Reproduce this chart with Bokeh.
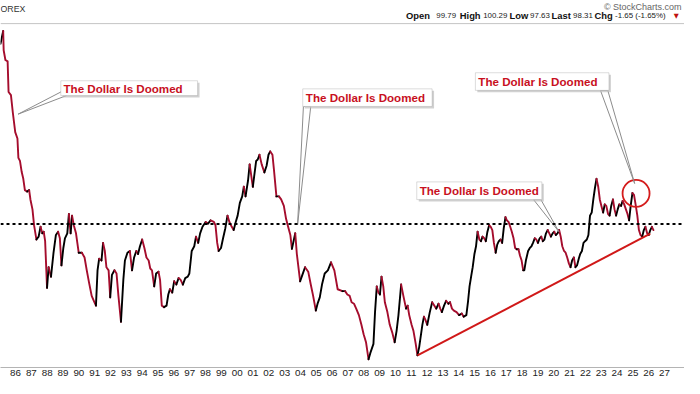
import numpy as np
from bokeh.plotting import figure
from bokeh.models import Range1d, FixedTicker, Span, BoxAnnotation, Label
from bokeh.embed import file_html
from bokeh.resources import INLINE

# ---------------- data (US Dollar Index) ----------------
dates = [
    1985.05, 1985.22, 1985.25, 1985.36, 1985.5, 1985.56, 1985.71, 1985.83, 1985.98, 1986.12, 1986.18, 1986.28,
    1986.39, 1986.49, 1986.59, 1986.74, 1986.86, 1986.94,
    1987.07, 1987.17, 1987.32, 1987.46, 1987.58, 1987.69, 1987.78, 1987.87, 1987.99,
    1988.09, 1988.24, 1988.4, 1988.55, 1988.69, 1988.8, 1988.9,
    1989.02, 1989.12, 1989.27, 1989.37, 1989.48, 1989.57, 1989.68, 1989.82, 1989.99,
    1990.19, 1990.36, 1990.5, 1990.65, 1990.81, 1990.98,
    1991.08, 1991.18, 1991.28, 1991.43, 1991.53, 1991.64, 1991.74, 1991.88, 1991.98,
    1992.09, 1992.25, 1992.38, 1992.5, 1992.66, 1992.81, 1992.91,
    1993.07, 1993.22, 1993.36, 1993.49, 1993.63, 1993.74, 1993.86,
    1994.0, 1994.14, 1994.27, 1994.41, 1994.51, 1994.62, 1994.76, 1994.88,
    1995.03, 1995.13, 1995.24, 1995.38, 1995.54, 1995.65, 1995.75, 1995.9,
    1996.02, 1996.16, 1996.3, 1996.43, 1996.57, 1996.72, 1996.88, 1996.98,
    1997.13, 1997.29, 1997.4, 1997.54, 1997.66, 1997.81,
    1998.01, 1998.16, 1998.32, 1998.53, 1998.63, 1998.74, 1998.83, 1998.98,
    1999.11, 1999.25, 1999.39, 1999.51, 1999.66, 1999.78, 1999.91,
    2000.03, 2000.17, 2000.32, 2000.42, 2000.53, 2000.69, 2000.79, 2000.99,
    2001.2, 2001.3, 2001.41, 2001.55, 2001.72, 2001.86, 2001.98,
    2002.09, 2002.23, 2002.33, 2002.48, 2002.64, 2002.78, 2002.95,
    2003.09, 2003.22, 2003.36, 2003.46, 2003.67, 2003.77, 2003.98,
    2004.12, 2004.29, 2004.49, 2004.65, 2004.8, 2004.97,
    2005.08, 2005.22, 2005.36, 2005.53, 2005.73, 2005.93,
    2006.14, 2006.35, 2006.65, 2006.82, 2006.96,
    2007.11, 2007.23, 2007.38, 2007.52, 2007.69, 2007.85, 2007.99,
    2008.14, 2008.3, 2008.41, 2008.61, 2008.71, 2008.82, 2008.92,
    2009.02, 2009.12, 2009.23, 2009.33, 2009.49, 2009.64, 2009.8, 2009.95,
    2010.07, 2010.19, 2010.36, 2010.5, 2010.67, 2010.77, 2010.87,
    2011.02, 2011.14, 2011.28, 2011.39, 2011.5, 2011.7, 2011.8, 2011.9,
    2012.01, 2012.17, 2012.32, 2012.46, 2012.58, 2012.72, 2012.83, 2012.93,
    2013.07, 2013.2, 2013.34, 2013.45, 2013.57, 2013.69, 2013.86,
    2014.02, 2014.19, 2014.31, 2014.48, 2014.58, 2014.68, 2014.78, 2014.88, 2014.99,
    2015.09, 2015.19, 2015.3, 2015.4, 2015.5, 2015.61, 2015.71, 2015.81, 2015.92,
    2016.02, 2016.12, 2016.22, 2016.33, 2016.43, 2016.53, 2016.64, 2016.74, 2016.84, 2016.95,
    2017.04, 2017.15, 2017.25, 2017.35, 2017.46, 2017.56, 2017.66, 2017.77, 2017.87, 2017.97,
    2018.07, 2018.14, 2018.24, 2018.38, 2018.49, 2018.59, 2018.69, 2018.8, 2018.9,
    2019.0, 2019.11, 2019.21, 2019.31, 2019.41, 2019.51, 2019.62, 2019.72, 2019.82, 2019.93,
    2020.03, 2020.13, 2020.24, 2020.34, 2020.44, 2020.54, 2020.65, 2020.75, 2020.85, 2020.96,
    2021.06, 2021.16, 2021.27, 2021.37, 2021.47, 2021.58, 2021.67, 2021.78, 2021.88, 2021.98,
    2022.09, 2022.19, 2022.29, 2022.4, 2022.5, 2022.6, 2022.7, 2022.81, 2022.91,
    2023.01, 2023.12, 2023.22, 2023.32, 2023.43, 2023.53, 2023.63, 2023.74, 2023.84, 2023.94,
    2024.04, 2024.14, 2024.25, 2024.35, 2024.45, 2024.56, 2024.66, 2024.76, 2024.86, 2024.97,
    2025.07, 2025.17, 2025.28, 2025.38, 2025.48, 2025.59, 2025.69, 2025.79, 2025.9,
    2026.0, 2026.1, 2026.2, 2026.3,
]
dxy = [
    156.6, 161.7, 154.1, 150.4, 149.9, 138.9, 137.8, 131.9, 125.7, 123.7, 117.9, 117.0,
    113.8, 111.9, 108.8, 108.4, 108.8, 106.3,
    103.7, 99.7, 96.2, 96.9, 99.3, 97.7, 98.1, 95.8, 85.3,
    89.8, 87.7, 93.1, 97.3, 98.1, 96.5, 90.2,
    94.2, 96.5, 97.7, 102.5, 97.7, 102.1, 99.7, 97.7, 93.1,
    93.1, 92.0, 89.1, 86.3, 83.6, 82.3,
    81.6, 89.1, 91.7, 91.3, 95.4, 93.5, 89.8, 89.1, 83.3,
    88.1, 89.1, 88.4, 83.6, 78.4, 87.0, 91.3,
    93.1, 93.5, 89.1, 92.0, 93.5, 92.8, 94.6,
    96.2, 94.2, 92.0, 91.3, 89.5, 89.1, 85.6, 88.4,
    88.8, 87.0, 81.6, 81.3, 81.6, 83.9, 85.0, 84.3,
    86.7, 86.0, 87.4, 87.0, 86.0, 87.4, 87.7, 88.4,
    93.5, 94.6, 96.9, 95.4, 97.7, 99.3,
    100.5, 100.1, 100.9, 100.5, 99.7, 95.4, 93.5, 94.2,
    96.5, 98.9, 102.1, 100.5, 99.3, 98.5, 100.5,
    102.1, 105.4, 107.1, 109.7, 107.1, 111.5, 116.0, 109.7,
    117.0, 117.4, 118.8, 116.0, 113.7, 115.6, 118.8,
    119.8, 118.8, 114.2, 107.1, 107.1, 106.3, 104.6,
    101.3, 99.3, 97.3, 94.0, 97.7, 92.8, 86.7,
    88.1, 89.8, 88.8, 86.0, 83.6, 80.6,
    82.0, 83.3, 86.0, 88.4, 89.1, 90.9,
    89.1, 85.0, 84.6, 84.6, 83.9,
    83.6, 82.3, 82.0, 81.0, 79.7, 77.8, 76.0,
    74.5, 71.4, 72.5, 74.2, 80.3, 85.6, 84.3,
    83.9, 87.7, 85.6, 82.3, 80.3, 77.8, 76.3, 74.5,
    76.6, 79.7, 86.0, 83.6, 81.0, 81.6, 79.7,
    77.8, 76.6, 74.2, 72.1, 73.6, 77.8, 79.4, 78.7,
    77.8, 80.3, 82.3, 81.6, 81.0, 82.0, 81.0, 80.3,
    81.6, 82.6, 82.0, 82.3, 81.0, 80.6, 80.3,
    79.7, 80.0, 79.4, 79.7, 82.3, 85.6, 87.7, 89.8, 92.8,
    94.6, 98.1, 96.2, 95.8, 96.9, 96.5, 95.8, 98.1, 99.7,
    99.3, 98.5, 95.4, 93.1, 95.0, 95.8, 96.2, 95.4, 98.9, 101.7,
    100.9, 100.5, 99.3, 98.1, 96.5, 94.2, 93.9, 93.9, 92.4, 91.3,
    89.1, 89.1, 91.3, 93.5, 94.2, 94.6, 95.4, 96.5, 96.2,
    95.4, 96.5, 96.9, 95.8, 96.2, 97.7, 98.5, 97.7, 96.9, 97.7,
    98.1, 97.3, 97.7, 98.5, 96.9, 94.6, 93.5, 93.1, 92.0, 90.6,
    89.8, 91.3, 92.0, 89.8, 90.2, 91.7, 92.8, 93.5, 95.4, 95.8,
    96.2, 97.3, 102.1, 102.9, 106.3, 109.3, 111.9, 109.7, 106.3,
    104.6, 102.9, 105.0, 104.6, 102.5, 102.1, 104.6, 106.3, 103.7, 102.1,
    103.7, 105.0, 104.6, 105.9, 105.0, 103.7, 102.5, 100.9, 104.6, 108.0,
    107.5, 105.0, 102.1, 98.5, 97.3, 96.9, 98.5, 99.3, 97.7,
    97.3, 98.5, 99.3, 98.5,
]
assert len(dates) == len(dxy)

tick_years = list(range(1985, 2028))
tick_labels = ["%02d" % (y % 100) for y in tick_years]

reference_level = 100.0
trend_dates = [2011.39, 2026.1]
trend_values = [72.1, 97.6]
highlight_date = 2025.2
highlight_value = 107.9

callout_text = "The Dollar Is Doomed"
header_title = "OREX"
header_credit = "\u00a9 StockCharts.com"
quote_labels = ["Open", "High", "Low", "Last", "Chg"]
quote_values = ["99.79", "100.29", "97.63", "98.31", "-1.65 (-1.65%)"]

# ---------------- layout calibration (reference pixels -> data) ----------------
X0 = 1985.05
PX_PER_YEAR = 16.2


def rx(px):
    return X0 + px / PX_PER_YEAR


def ry(py):
    return 100.0 * np.exp((232.0 - py) / 417.0)


RED = "#a50d2d"
TXT_RED = "#c8101e"

# the frame spans the whole height above the date axis (header drawn inside it)
p = figure(width=684, height=378,
           x_range=Range1d(rx(0), rx(700)), y_range=Range1d(ry(381), ry(0)),
           y_axis_type="log", y_axis_location=None,
           output_backend="svg", toolbar_location=None,
           min_border_left=0, min_border_right=0, min_border_top=0, min_border_bottom=0)
p.outline_line_color = None
p.xgrid.visible = False
p.ygrid.visible = False
p.background_fill_color = "white"

xa = p.xaxis[0]
xa.ticker = FixedTicker(ticks=tick_years)
xa.major_label_overrides = {y: t for y, t in zip(tick_years, tick_labels)}
xa.major_tick_out = 0
xa.major_tick_in = 0
xa.minor_tick_out = 0
xa.minor_tick_in = 0
xa.major_label_standoff = 2
xa.axis_line_color = "#b4b4b4"
xa.major_label_text_font = "Liberation Sans"
xa.major_label_text_font_size = "9.8px"
xa.major_label_text_color = "#222222"

# top border line of the price panel
p.add_layout(Span(location=ry(24), dimension="width", line_color="#c4c4c4", line_width=1))

# reference dotted line
p.add_layout(Span(location=reference_level, dimension="width", line_color="black",
                  line_dash="3 3", line_width=2))

# price line: black when rising, red when falling
colors = ["#000000" if b >= a else RED for a, b in zip(dxy[:-1], dxy[1:])]
xs_runs, ys_runs, c_runs = [], [], []
start = 0
for i in range(1, len(colors) + 1):
    if i == len(colors) or colors[i] != colors[start]:
        xs_runs.append(dates[start:i + 1])
        ys_runs.append(dxy[start:i + 1])
        c_runs.append(colors[start])
        start = i
p.multi_line(xs_runs, ys_runs, line_color=c_runs, line_width=1.9,
             line_join="round", line_cap="round")

# trendline
p.line(trend_dates, trend_values, line_color="#d01818", line_width=2)

# highlight circle
p.scatter([highlight_date], [highlight_value], marker="circle", size=27,
          fill_color=None, line_color="#d41c1c", line_width=1.8)

# callouts (box in reference pixels: left, top, right, bottom)
callouts = [
    dict(box=(61.7, 83.3, 201.7, 98.7), tx=64.5, ty=91.0,
         tail=[(61.7, 95.0), (18.0, 118.0), (67.5, 98.7)]),
    dict(box=(309.3, 91.7, 441.7, 110.0), tx=312.5, ty=100.5,
         tail=[(310.0, 110.0), (304.0, 233.0), (317.5, 110.0)]),
    dict(box=(426.0, 188.3, 554.0, 206.7), tx=429.0, ty=197.0,
         tail=[(545.5, 206.7), (571.5, 240.0), (553.0, 206.7)]),
    dict(box=(486.0, 75.0, 622.7, 93.3), tx=489.0, ty=84.0,
         tail=[(614.0, 93.3), (649.0, 190.0), (621.5, 93.3)]),
]
for c in callouts:
    tx_ = [rx(a) for a, b in c["tail"]]
    ty_ = [ry(b) for a, b in c["tail"]]
    p.patch(tx_, ty_, fill_color="white", line_color="#8c8c8c", line_width=1)
for c in callouts:
    l, t, r, b = c["box"]
    p.add_layout(BoxAnnotation(left=rx(l + 2), right=rx(r + 2), top=ry(t + 2), bottom=ry(b + 2),
                               fill_color="#bdbdbd", fill_alpha=0.7, line_color=None))
    p.add_layout(BoxAnnotation(left=rx(l), right=rx(r), top=ry(t), bottom=ry(b),
                               fill_color="white", fill_alpha=1.0,
                               line_color="#8c8c8c", line_width=1))
    p.add_layout(Label(x=rx(c["tx"]), y=ry(c["ty"]), text=callout_text,
                       text_font="Liberation Sans", text_font_style="bold",
                       text_font_size="11.6px", text_color=TXT_RED,
                       text_baseline="middle", text_align="left"))

# header texts
p.add_layout(Label(x=rx(0), y=ry(8.5), text=header_title, text_font="Liberation Sans",
                   text_font_size="8.8px", text_color="#333333",
                   text_baseline="middle", text_align="left"))
p.add_layout(Label(x=rx(697), y=ry(7.0), text=header_credit, text_font="Liberation Sans",
                   text_font_size="9px", text_color="#666666",
                   text_baseline="middle", text_align="right"))
label_x = [415, 470, 521, 564, 608]
value_x = [446, 494, 542, 586, 629]
for lab, val, lx, vx in zip(quote_labels, quote_values, label_x, value_x):
    p.add_layout(Label(x=rx(lx), y=ry(16.0), text=lab, text_font="Liberation Sans",
                       text_font_style="bold", text_font_size="9.4px", text_color="#111111",
                       text_baseline="middle", text_align="left"))
    p.add_layout(Label(x=rx(vx), y=ry(16.0), text=val, text_font="Liberation Sans",
                       text_font_size="7.9px", text_color="#222222",
                       text_baseline="middle", text_align="left"))
p.add_layout(Label(x=rx(689), y=ry(16.0), text="\u25bc", text_font="DejaVu Sans",
                   text_font_size="6.5px", text_color="#c01010",
                   text_baseline="middle", text_align="left"))

open("out.html", "w").write(file_html(p, INLINE))
